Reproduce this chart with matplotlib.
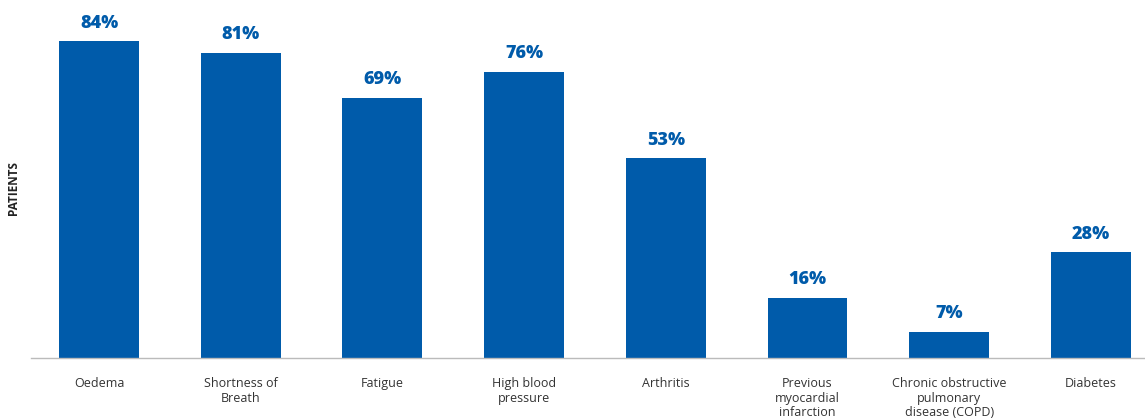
import matplotlib.pyplot as plt
import numpy as np

categories = ["Oedema", "Shortness of\nBreath", "Fatigue", "High blood\npressure",
              "Arthritis", "Previous\nmyocardial\ninfarction",
              "Chronic obstructive\npulmonary\ndisease (COPD)", "Diabetes"]
values = [84, 81, 69, 76, 53, 16, 7, 28]

blue = "#005BAA"

fig = plt.figure(figsize=(11.45, 4.19), dpi=100)
ax = fig.add_axes([31 / 1145, 61 / 419, 1114 / 1145, 358 / 419])

x = np.arange(len(categories))
bars = ax.bar(x, values, width=0.564, color=blue)

for b, v in zip(bars, values):
    ax.annotate(f"{v}%", (b.get_x() + b.get_width() / 2, v), xytext=(0, 7),
                textcoords="offset points", ha="center", va="bottom",
                fontsize=13, fontweight="heavy", color=blue, family="Open Sans")

ax.set_xlim(-0.48, 7.382)
ax.set_ylim(0, 95)
ax.set_xticks(x)
ax.set_xticklabels(categories, fontsize=9, color="#333333", family="Open Sans",
                   linespacing=1.15, va="top")
ax.tick_params(axis="x", length=0, pad=14)
ax.set_yticks([])
for s in ["top", "right", "left"]:
    ax.spines[s].set_visible(False)
ax.spines["bottom"].set_color("#bbbbbb")
ax.spines["bottom"].set_linewidth(1)

fig.text(14 / 1145, 1 - 188 / 419, "PATIENTS", rotation=90, ha="center", va="center",
         fontsize=8.5, fontweight="bold", color="#222222", family="Open Sans")

fig.savefig("out.png", dpi=100)
